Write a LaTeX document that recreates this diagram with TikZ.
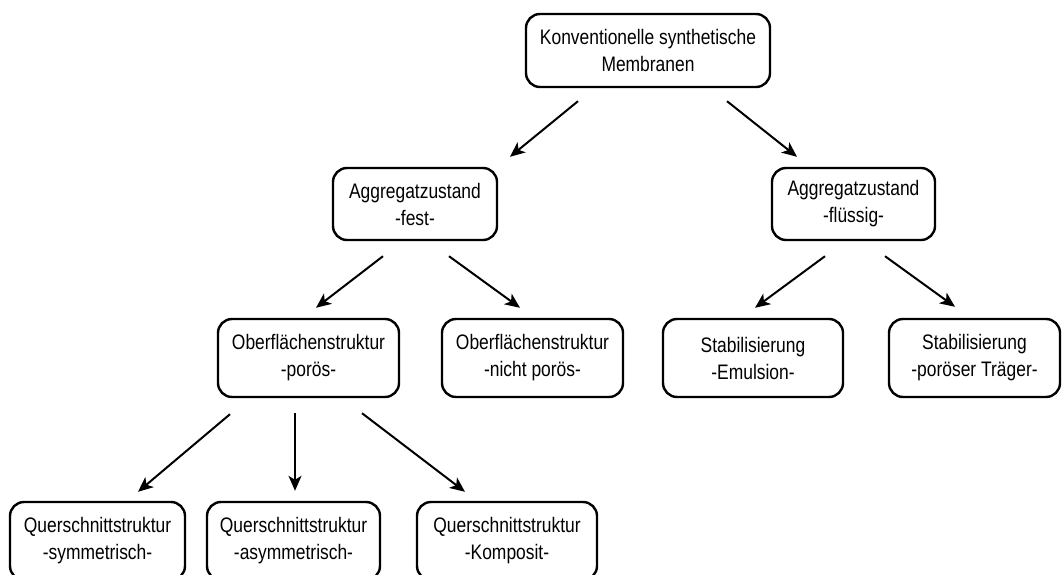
\documentclass[tikz,border=0pt]{standalone}
\usepackage{fontspec}
\setmainfont{Liberation Sans}
\usetikzlibrary{arrows.meta}
\newcommand{\twolines}[2]{\scalebox{.83}[1]{#1}\\\scalebox{.83}[1]{#2}}

\begin{document}
\begin{tikzpicture}
    [x=1pt, y=-1pt,
      box/.style={draw, line width=2.4pt, rounded corners=14pt, align=center,
        inner sep=0pt, minimum height=78pt, font=\fontsize{21}{27}\selectfont},
      arr/.style={-{Stealth[length=15pt, width=13pt, inset=4pt]}, line width=2pt}]
    \useasboundingbox (0,0) rectangle (1062,575);
    \clip (0,0) rectangle (1062,575);
    \node[box, minimum width=244pt, minimum height=73pt] (membr) at (648,50.5)
      {\twolines{Konventionelle synthetische}{Membranen}};
    \node[box, minimum width=164pt, minimum height=72pt] (fest) at (415,204)
      {\twolines{Aggregatzustand}{-fest-}};
    \node[box, minimum width=163pt, minimum height=72pt] (fluessig) at (853.5,204)
      {\twolines{Aggregatzustand}{-flüssig-}};
    \node[box, minimum width=181pt] (poroes) at (308.5,358)
      {\twolines{Oberflächenstruktur}{-porös-}};
    \node[box, minimum width=181pt] (nichtporoes) at (532.5,358)
      {\twolines{Oberflächenstruktur}{-nicht porös-}};
    \node[box, minimum width=180pt] (emulsion) at (753,358)
      {\twolines{Stabilisierung}{-Emulsion-}};
    \node[box, minimum width=171pt] (traeger) at (974.5,358)
      {\twolines{Stabilisierung}{-poröser Träger-}};
    \node[box, minimum width=175pt] (symm) at (97.5,541)
      {\twolines{Querschnittstruktur}{-symmetrisch-}};
    \node[box, minimum width=173pt] (asymm) at (293.5,541)
      {\twolines{Querschnittstruktur}{-asymmetrisch-}};
    \node[box, minimum width=180pt] (kompo) at (507,541)
      {\twolines{Querschnittstruktur}{-Komposit-}};

    \draw[arr] ([shift={(-70,13)}]membr.south) -- ([shift={(95,-10)}]fest.north);
    \draw[arr] ([shift={(79,13)}]membr.south) -- ([shift={(-56.5,-10)}]fluessig.north);
    \draw[arr] ([shift={(-32,15)}]fest.south) -- ([shift={(7.5,-10)}]poroes.north);
    \draw[arr] ([shift={(34,15)}]fest.south) -- ([shift={(-12.5,-10)}]nichtporoes.north);
    \draw[arr] ([shift={(-28.5,15)}]fluessig.south) -- ([shift={(2,-10)}]emulsion.north);
    \draw[arr] ([shift={(31.5,15)}]fluessig.south) -- ([shift={(-19.5,-11)}]traeger.north);
    \draw[arr] ([shift={(-78.5,16)}]poroes.south) -- ([shift={(40.5,-9)}]symm.north);
    \draw[arr] ([shift={(-13.5,15)}]poroes.south) -- ([shift={(1.5,-10)}]asymm.north);
    \draw[arr] ([shift={(53.5,15)}]poroes.south) -- ([shift={(-42,-9)}]kompo.north);
\end{tikzpicture}
\end{document}
